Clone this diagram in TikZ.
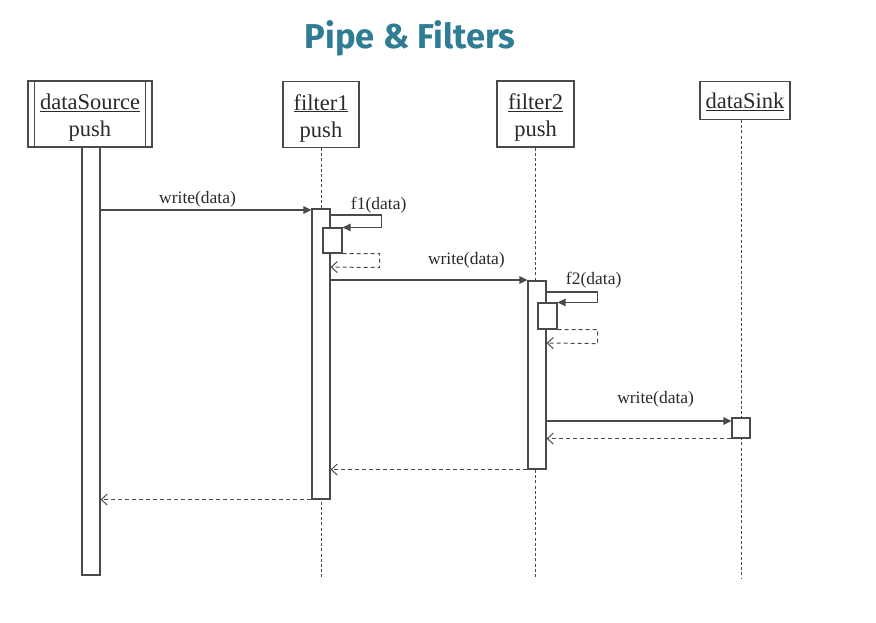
\documentclass[tikz,border=0pt]{standalone}
\usepackage{fontspec}
\setmainfont{Liberation Serif}
\newfontfamily\titlefont{Fira Sans}
\usetikzlibrary{arrows.meta}
\definecolor{ttl}{HTML}{2E7D95}
\definecolor{ln}{HTML}{4A4A4A}
\definecolor{txt}{HTML}{2A2A2A}
\begin{document}
\begin{tikzpicture}[x=1pt,y=-1pt,
  objbox/.style={draw=ln, line width=1.1pt, fill=white, inner sep=0pt},
  objtext/.style={inner sep=0pt, align=center, font=\fontsize{22.5}{27}\selectfont, text=txt},
  actbar/.style={draw=ln, line width=1.1pt, fill=white, inner sep=0pt},
  life/.style={draw=ln, line width=0.9pt, dash pattern=on 3pt off 2.2pt},
  callmsg/.style={draw=ln, line width=1.1pt, -{Triangle[length=8pt,width=7.5pt]}},
  retmsg/.style={draw=ln, line width=1pt, dash pattern=on 4pt off 3pt, -{Straight Barb[length=6pt,width=11pt]}},
  lbl/.style={font=\fontsize{17.5}{20}\selectfont, text=txt, inner sep=0pt}
]
\useasboundingbox (0,0) rectangle (876,622);
\fill[white] (0,0) rectangle (876,622);

% title
\node[anchor=base, text=ttl, font=\titlefont\bfseries\fontsize{34.5}{38}\selectfont] (title) at (410,48) {Pipe \& Filters};

% objects
\node[objbox, minimum width=124pt, minimum height=66pt] (src) at (90,114) {};
\node[objtext] (srct) at ([yshift=-3.5pt]src.center) {\underline{dataSource}\\push};
\draw[ln, line width=1.1pt] ([xshift=7pt]src.north west) -- ([xshift=7pt]src.south west)
      ([xshift=-7pt]src.north east) -- ([xshift=-7pt]src.south east);
\node[objbox, minimum width=76pt, minimum height=66pt] (f1) at (321,114.5) {};
\node[objtext] (f1t) at ([yshift=-3.5pt]f1.center) {\underline{filter1}\\push};
\node[objbox, minimum width=77pt, minimum height=66pt] (f2) at (535.5,114) {};
\node[objtext] (f2t) at ([yshift=-3.5pt]f2.center) {\underline{filter2}\\push};
\node[objbox, minimum width=90pt, minimum height=38pt] (snk) at (745,100.5) {};
\node[objtext] (snkt) at ([yshift=-1pt]snk.center) {\underline{dataSink}};

% lifelines
\coordinate (bot) at (0,579);
\draw[life] (f1.south) -- (f1.south |- bot);
\draw[life] (f2.south) -- (f2.south |- bot);
\draw[life] (snk.south -| 741,0) -- (741,579);

% activation bars
\node[actbar, minimum width=18pt, minimum height=428pt] (a0) at (91,361) {};
\node[actbar, minimum width=18pt, minimum height=290pt] (a1) at (321,354) {};
\node[actbar, minimum width=18pt, minimum height=188pt] (a2) at (537,375) {};
\node[actbar, minimum width=19pt, minimum height=25pt] (n1) at (332.5,240.5) {};
\node[actbar, minimum width=19pt, minimum height=26pt] (n2) at (547.5,316) {};
\node[actbar, minimum width=18pt, minimum height=20pt] (s) at (741,428) {};

% message levels
\coordinate (y1) at (0,210);
\coordinate (y2) at (0,280);
\coordinate (y3) at (0,421);
\coordinate (yf1) at (0,215);
\coordinate (yf2) at (0,292);

% write messages
\draw[callmsg] (a0.east |- y1) -- (a1.west |- y1)
  node[lbl, anchor=base, pos=0.46, yshift=7pt] (l1) {write(data)};
\draw[callmsg] (a1.east |- y2) -- (a2.west |- y2)
  node[lbl, anchor=base, pos=0.69, yshift=15.6pt] (l2) {write(data)};
\draw[callmsg] (a2.east |- y3) -- (s.west |- y3)
  node[lbl, anchor=base, pos=0.59, yshift=17.6pt] (l3) {write(data)};

% self calls
\draw[callmsg] (a1.east |- yf1) -- ++(51,0)
  node[lbl, anchor=base west, pos=0.39, yshift=5.6pt] (l4) {f1(data)}
  |- (n1.north east);
\draw[retmsg] (n1.south east) -- ++(37,0) -- ++(0,14) -- (a1.east |- 0,267);
\draw[callmsg] (a2.east |- yf2) -- ++(51,0)
  node[lbl, anchor=base west, pos=0.37, yshift=7.6pt] (l5) {f2(data)}
  |- (n2.north east);
\draw[retmsg] (n2.south east) -- ++(40,0) -- ++(0,14) -- (a2.east |- 0,343);

% returns
\draw[retmsg] (s.south west) -- (a2.east |- s.south);
\draw[retmsg] (a2.south west) -- (a1.east |- a2.south);
\draw[retmsg] (a1.south west) -- (a0.east |- a1.south);
\end{tikzpicture}
\end{document}
